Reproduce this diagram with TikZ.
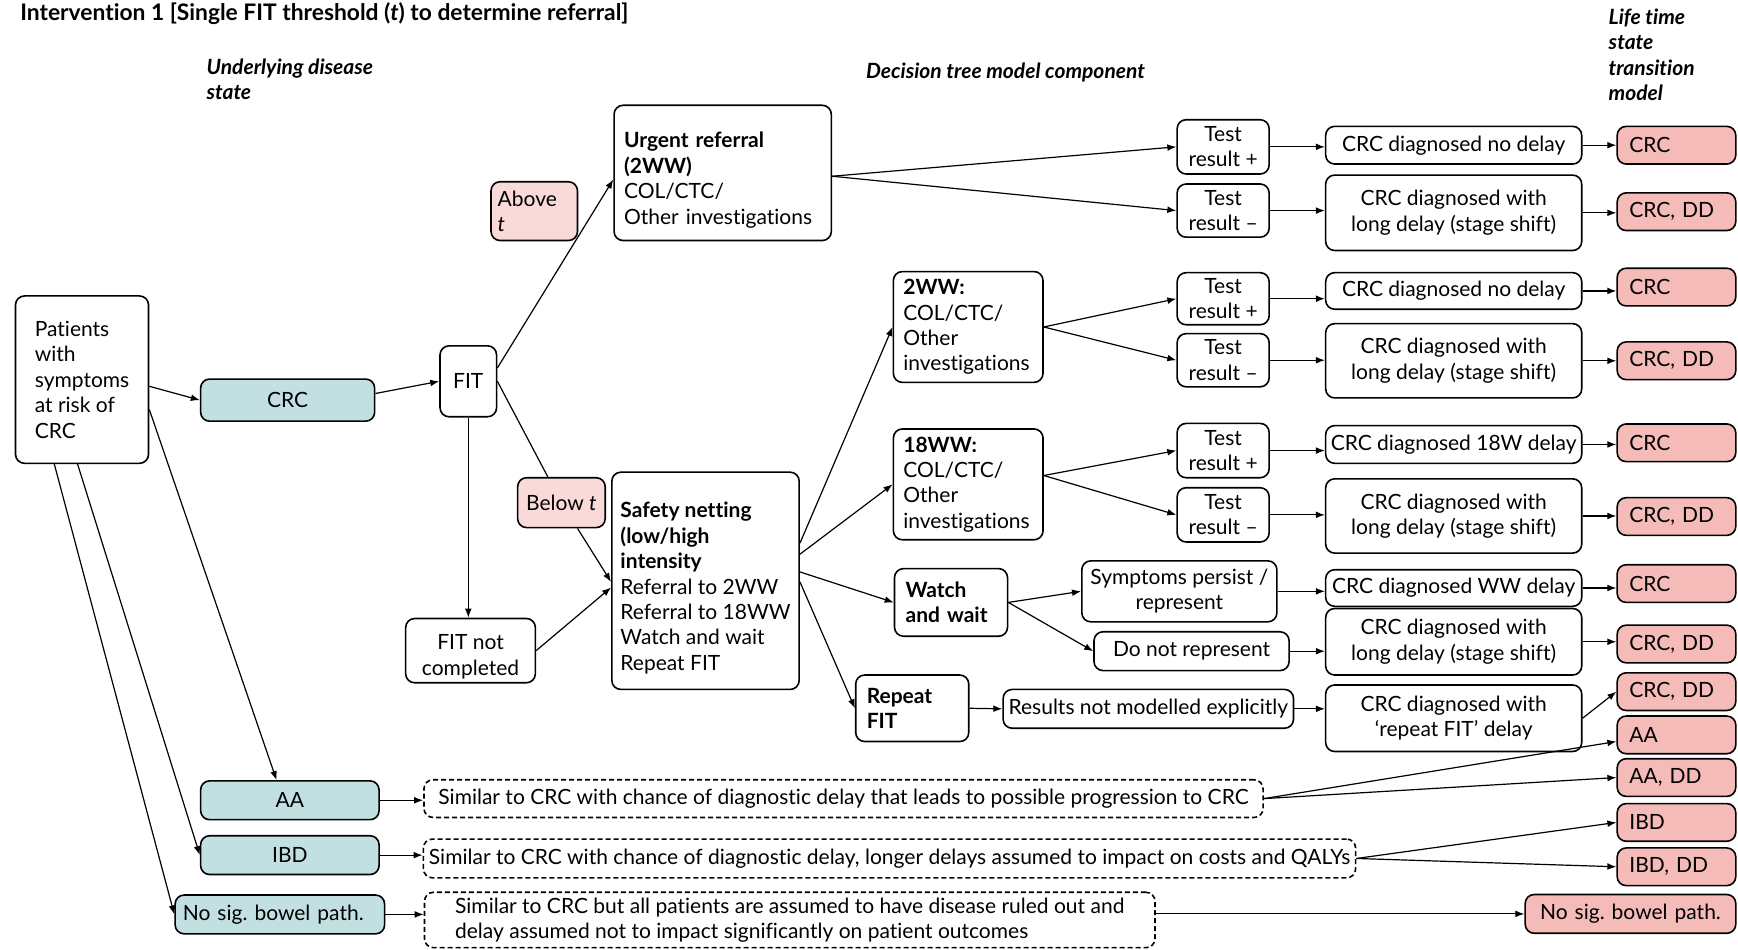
\documentclass[tikz,border=0pt]{standalone}
\usepackage{fontspec}
\setmainfont{Lato}[Ligatures=NoCommon]
\usetikzlibrary{calc}
\usetikzlibrary{arrows.meta}

\definecolor{diseasefill}{RGB}{194,224,226}
\definecolor{statefill}{RGB}{244,187,184}
\definecolor{cutfill}{RGB}{249,218,216}

\begin{document}
\begin{tikzpicture}[x=0.5542pt, y=-0.5542pt, font=\fontsize{10.5}{12.7}\selectfont\frenchspacing,
 box/.style={draw, rounded corners=4.5pt, line width=0.8pt, fill=white, inner sep=0pt, align=center},
 bw/.style={minimum width=#1*0.5542pt},
 bh/.style={minimum height=#1*0.5542pt},
 tw/.style={text width=#1*0.5542pt, align=left},
 disease/.style={box, fill=diseasefill},
 lifestate/.style={box, fill=statefill, bw=107, bh=34, tw=85},
 cutoff/.style={box, fill=cutfill},
 similar/.style={box, dash pattern=on 2.5pt off 1.5pt},
 hdr/.style={inner sep=0pt, align=left, font=\fontsize{10.5}{12.7}\selectfont\bfseries\itshape},
 link/.style={->, >={Latex[length=4.5pt,width=3.4pt]}, line width=0.6pt}]
\useasboundingbox (0,0) rectangle (1568,857);

\node[inner sep=0pt, anchor=west, font=\fontsize{11.4}{13}\selectfont\bfseries] (title) at (18,12) {Intervention 1 [Single FIT threshold (\textit{t}) to determine referral]};
\node[hdr, anchor=west] (hdis) at (186,71.5) {Underlying disease\\state};
\node[hdr, anchor=west] (htree) at (781,65) {Decision tree model component};
\node[hdr, anchor=west] (hlife) at (1451,49.5) {Life time\\state\\transition\\model};

\node[box, bw=120, bh=151, align=left] (pat) at (74,342.5) {Patients\\with\\symptoms\\at risk of\\CRC};
\node[disease, bw=157, bh=38] (crc) at (259.5,361) {CRC};
\node[box, bw=51, bh=64] (fit) at (422.5,344) {FIT};
\node[cutoff, bw=78, bh=53, tw=66] (above) at (482,190.5) {Above\\\textit{t}};
\node[box, bw=196, bh=122, tw=178] (urgent) at (652,156) {\rule{0pt}{15pt}\textbf{Urgent referral}\\\textbf{(2WW)}\\COL/CTC/\\Other investigations};
\node[cutoff, bw=79, bh=45] (below) at (506.5,453.5) {Below \textit{t}};
\node[box, bw=117, bh=58] (fitnc) at (424.5,587) {\rule{0pt}{13.5pt}FIT not\\completed};
\node[box, bw=169, bh=196, align=left] (safety) at (636.5,524) {\rule{0pt}{15pt}\textbf{Safety netting}\\\textbf{(low/high}\\\textbf{intensity}\\Referral to 2WW\\Referral to 18WW\\Watch and wait\\Repeat FIT};

\node[box, bw=135, bh=100, tw=117] (ww2) at (873.5,295) {\textbf{2WW:}\\COL/CTC/\\Other\\investigations};
\node[box, bw=135, bh=100, tw=117] (ww18) at (873.5,437) {\textbf{18WW:}\\COL/CTC/\\Other\\investigations};
\node[box, bw=102, bh=61, tw=82] (watch) at (858,543.5) {\textbf{Watch}\\\textbf{and wait}};
\node[box, bw=102, bh=60, tw=82] (repfit) at (823,639) {\textbf{Repeat}\\\textbf{FIT}};

\foreach \name/\y/\h/\s in {t1p/132.5/49/+, t1m/190/48/–, t2p/269.5/47/+, t2m/325/48/–, t3p/406.5/49/+, t3m/464.5/49/–}
 \node[box, bw=83, bh=\h] (\name) at (1103.5,\y) {Test\\result \s};

\node[box, bw=176, bh=55] (persist) at (1064,533.5) {Symptoms persist /\\represent};
\node[box, bw=176, bh=35] (norep) at (1075,587.5) {Do not represent};
\node[box, bw=262, bh=35] (notmod) at (1036,639.5) {Results not modelled explicitly};

\foreach \i/\y/\h/\txt in {1/131/34/{CRC diagnosed no delay},
  2/192/68/{CRC diagnosed with\\long delay (stage shift)},
  3/262.5/33/{CRC diagnosed no delay},
  4/325.5/67/{CRC diagnosed with\\long delay (stage shift)},
  5/401/34/{CRC diagnosed 18W delay},
  6/465.5/67/{CRC diagnosed with\\long delay (stage shift)},
  7/530.5/33/{CRC diagnosed WW delay},
  8/579/60/{CRC diagnosed with\\long delay (stage shift)},
  9/648/60/{CRC diagnosed with\\‘repeat FIT’ delay}}
 \node[box, bw=231, bh=\h] (d\i) at (1311.5,\y) {\txt};

\foreach \i/\y/\txt in {1/131/CRC, 2/191/{CRC, DD}, 3/259/CRC, 4/325.5/{CRC, DD},
  5/399.5/CRC, 6/466/{CRC, DD}, 7/526.5/CRC, 8/581/{CRC, DD}, 9/624/{CRC, DD},
  10/663/AA, 11/701.5/{AA, DD}, 12/742/IBD, 13/782/{IBD, DD}}
 \node[lifestate] (l\i) at (1512.5,\y) {\txt};
\node[lifestate, bw=190, bh=35, tw=170, align=center] (l14) at (1471,824.5) {No sig. bowel path.};

\node[disease, bw=161, bh=35] (aa) at (261.5,722) {AA};
\node[disease, bw=161, bh=35] (ibd) at (261.5,771.5) {IBD};
\node[disease, bw=189, bh=35, tw=175] (nsb) at (252.5,825) {No sig. bowel path.};

\node[similar, bw=757, bh=34] (daa) at (761,720.5) {Similar to CRC with chance of diagnostic delay that leads to possible progression to CRC};
\node[similar, bw=841, bh=35] (dibd) at (802.5,774.5) {Similar to CRC with chance of diagnostic delay, longer delays assumed to impact on costs and QALYs};
\node[similar, bw=659, bh=50, align=left] (dnsb) at (712.5,830) {Similar to CRC but all patients are assumed to have disease ruled out and\\delay assumed not to impact significantly on patient outcomes};

\draw[link] ($(pat.east)+(0,6)$) -- (crc.west);
\draw[link] ($(pat.east)+(0,27)$) -- ($(aa.north)+(-12,0)$);
\draw[link] ($(pat.south)+(-4,0)$) -- (ibd.west);
\draw[link] ($(pat.south)+(-25,0)$) -- (nsb.west);
\draw[link] ($(crc.east)+(0,-6)$) -- (fit.west);
\draw[link] ($(fit.east)+(0,-12)$) -- ($(urgent.west)+(0,6)$);
\draw[line width=0.6pt] (fit.east) -- (below);
\draw[link] (below) -- ($(safety.west)+(0,1)$);
\draw[link] (fit.south) -- (fit.south |- fitnc.north);
\draw[link] (fitnc.east) -- ($(safety.west)+(0,6)$);
\foreach \t in {t1p,t1m} \draw[link] ($(urgent.east)+(0,3)$) -- (\t.west);
\foreach \t in {t2p,t2m} \draw[link] (ww2.east) -- (\t.west);
\foreach \t in {t3p,t3m} \draw[link] ($(ww18.east)+(0,-8)$) -- (\t.west);
\draw[link] ($(safety.east)+(0,-34)$) -- (ww2.west);
\draw[link] ($(safety.east)+(0,-24)$) -- (ww18.west);
\draw[link] ($(safety.east)+(0,-8)$) -- (watch.west);
\draw[link] ($(safety.east)+(0,1)$) -- (repfit.west);
\foreach \t in {persist,norep} \draw[link] (watch.east) -- (\t.west);
\draw[link] (repfit.east) -- (notmod.west);
\draw[link] (notmod.east) -- (notmod.east -| d9.west);
\foreach \t/\d in {t1p/d1, t1m/d2, t2p/d3, t2m/d4, t3p/d5, t3m/d6, persist/d7, norep/d8}
 \draw[link] (\t.east) -- (\t.east -| \d.west);
\foreach \i in {1,...,8} \draw[link] (d\i.east) -- (d\i.east -| l\i.west);
\draw[link] (d9.east) -- (l9.west);
\draw[link] (daa.east) -- ($(l10.west)+(0,6)$);
\draw[link] (daa.east) -- (l11.west);
\foreach \t in {l12,l13} \draw[link] (dibd.east) -- (\t.west);
\draw[link] (l14.west -| dnsb.east) -- (l14.west);
\foreach \s/\t in {aa/daa, ibd/dibd, nsb/dnsb} \draw[link] (\s.east) -- (\s.east -| \t.west);
\end{tikzpicture}
\end{document}
